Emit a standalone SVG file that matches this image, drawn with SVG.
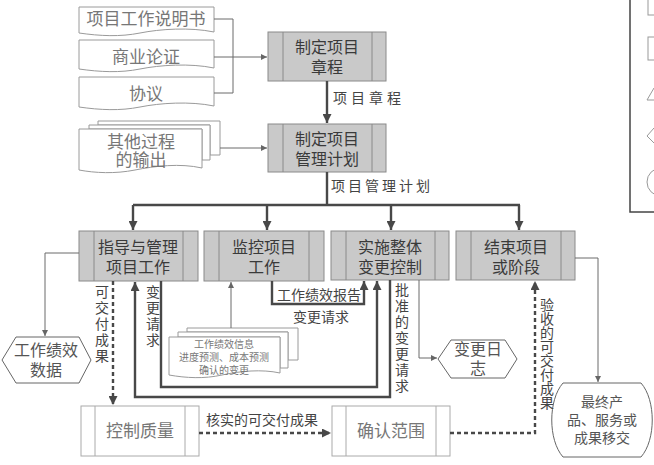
<svg xmlns="http://www.w3.org/2000/svg" width="654" height="465" viewBox="0 0 654 465">
<style>
text{font-family:"Liberation Sans","Noto Sans CJK SC",sans-serif;}
.proc rect.o{fill:#c9c9c9;stroke:#8a8a8a;stroke-width:1;}
.proc line{stroke:#8a8a8a;stroke-width:1;}
.proc text{font-size:16px;fill:#3a3a3a;text-anchor:middle;}
.wp rect.o{fill:#fff;stroke:#aaa;stroke-width:1;}
.wp line{stroke:#aaa;stroke-width:1;}
.wp text{font-size:17px;fill:#777;text-anchor:middle;}
.doc path{fill:#fff;stroke:#9a9a9a;stroke-width:1;}
.doc text{font-size:17px;fill:#777;text-anchor:middle;}
.hex polygon,.hex path{fill:#fff;stroke:#666;stroke-width:1;}
.hex text{font-size:16px;fill:#555;text-anchor:middle;}
.thin{fill:none;stroke:#6a6a6a;stroke-width:1;}
.thick{fill:none;stroke:#484848;stroke-width:2.4;}
.dash{fill:none;stroke:#484848;stroke-width:2.4;stroke-dasharray:4 3;}
.lbl{font-size:14px;fill:#444;}
.vl{font-size:14px;fill:#444;writing-mode:vertical-rl;}
</style>
<defs>
<marker id="ah" viewBox="0 0 10 10" refX="10" refY="5" markerWidth="9" markerHeight="9" markerUnits="userSpaceOnUse" orient="auto"><path d="M0,0 L10,5 L0,10 z" fill="#484848"/></marker>
<marker id="as" viewBox="0 0 10 10" refX="10" refY="5" markerWidth="6" markerHeight="6" markerUnits="userSpaceOnUse" orient="auto"><path d="M0,0 L10,5 L0,10 z" fill="#666"/></marker>
</defs>

<g id="legend">
<rect x="630" y="-2" width="40" height="214" fill="none" stroke="#444" stroke-width="1.5"/>
<rect x="648" y="-2" width="12" height="17" fill="none" stroke="#999"/>
<rect x="648" y="37" width="12" height="23" fill="none" stroke="#999"/>
<path d="M647,100 L654,88 M647,100 H654" fill="none" stroke="#999"/>
<path d="M654,128 L647,136 L654,143" fill="none" stroke="#999"/>
<ellipse cx="661" cy="182" rx="14" ry="14" fill="none" stroke="#999"/>
</g>

<g id="doc-sow" class="doc">
<path d="M79,7 H214 V32 C190,27 160,29 140,33 C120,37 100,36 79,33 Z"/>
<text x="146" y="25">项目工作说明书</text>
</g>
<g id="doc-business" class="doc">
<path d="M79,40 H214 V68 C190,63 160,65 140,69 C120,73 100,72 79,69 Z"/>
<text x="146" y="63">商业论证</text>
</g>
<g id="doc-agreement" class="doc">
<path d="M79,77 H214 V106 C190,101 160,103 140,107 C120,111 100,110 79,107 Z"/>
<text x="146" y="100">协议</text>
</g>
<g id="doc-other" class="doc">
<path d="M98,121 H220 V155 H210 V125 H98 Z"/>
<path d="M89,125 H210 V160 H202 V129 H89 Z"/>
<path d="M79,129 H202 V168 C180,163 155,166 135,170 C115,174 95,173 79,170 Z"/>
<text x="141" y="148">其他过程<tspan x="141" dy="18">的输出</tspan></text>
</g>

<g id="p-charter" class="proc">
<rect class="o" x="268" y="32" width="118" height="49"/>
<line x1="283" y1="32" x2="283" y2="81"/><line x1="372" y1="32" x2="372" y2="81"/>
<text x="327" y="53">制定项目<tspan x="327" dy="20">章程</tspan></text>
</g>
<g id="p-plan" class="proc">
<rect class="o" x="268" y="124" width="118" height="48"/>
<line x1="283" y1="124" x2="283" y2="172"/><line x1="372" y1="124" x2="372" y2="172"/>
<text x="327" y="145">制定项目<tspan x="327" dy="20">管理计划</tspan></text>
</g>
<g id="p-direct" class="proc">
<rect class="o" x="79" y="231" width="119" height="50"/>
<line x1="94" y1="231" x2="94" y2="281"/><line x1="183" y1="231" x2="183" y2="281"/>
<text x="138" y="253">指导与管理<tspan x="138" dy="20">项目工作</tspan></text>
</g>
<g id="p-monitor" class="proc">
<rect class="o" x="204" y="231" width="120" height="50"/>
<line x1="219" y1="231" x2="219" y2="281"/><line x1="309" y1="231" x2="309" y2="281"/>
<text x="264" y="253">监控项目<tspan x="264" dy="20">工作</tspan></text>
</g>
<g id="p-change" class="proc">
<rect class="o" x="331" y="231" width="118" height="49"/>
<line x1="346" y1="231" x2="346" y2="280"/><line x1="435" y1="231" x2="435" y2="280"/>
<text x="390" y="253">实施整体<tspan x="390" dy="20">变更控制</tspan></text>
</g>
<g id="p-close" class="proc">
<rect class="o" x="456" y="231" width="119" height="49"/>
<line x1="471" y1="231" x2="471" y2="280"/><line x1="561" y1="231" x2="561" y2="280"/>
<text x="516" y="253">结束项目<tspan x="516" dy="20">或阶段</tspan></text>
</g>

<g id="p-quality" class="wp">
<rect class="o" x="81" y="406" width="118" height="50"/>
<line x1="95" y1="406" x2="95" y2="456"/><line x1="185" y1="406" x2="185" y2="456"/>
<text x="140" y="437">控制质量</text>
</g>
<g id="p-scope" class="wp">
<rect class="o" x="332" y="406" width="118" height="50"/>
<line x1="346" y1="406" x2="346" y2="456"/><line x1="436" y1="406" x2="436" y2="456"/>
<text x="391" y="437">确认范围</text>
</g>

<g id="d-wpinfo" class="doc">
<path d="M187,328 H298 V360 H288 V332 H187 Z"/>
<path d="M178,332 H288 V368 H280 V337 H178 Z"/>
<path d="M169,337 H280 V373 C262,369 240,371 222,375 C204,379 186,378 169,375 Z"/>
<text x="224" y="348" style="font-size:10px">工作绩效信息<tspan x="224" dy="13">进度预测、成本预测</tspan><tspan x="224" dy="13">确认的变更</tspan></text>
</g>

<g id="h-wpdata" class="hex">
<polygon points="2,360 16,337 79,337 91,360 79,383 16,383"/>
<text x="46" y="356">工作绩效<tspan x="46" dy="20">数据</tspan></text>
</g>
<g id="h-changelog" class="hex">
<polygon points="438,359 451,340 505,340 517,359 505,378 451,378"/>
<text x="478" y="355">变更日<tspan x="478" dy="19">志</tspan></text>
</g>
<g id="h-final" class="hex">
<path d="M563,383 H641 C656,400 656,440 641,457 H563 C548,440 548,400 563,383 Z"/>
<text x="602" y="407" style="font-size:14px">最终产<tspan x="602" dy="18">品、服务或</tspan><tspan x="602" dy="18">成果移交</tspan></text>
</g>

<g id="connectors">
<path class="thin" d="M214,19 H233 V93 H214"/>
<path class="thin" d="M214,57 H267" marker-end="url(#as)"/>
<path class="thin" d="M220,148 H267" marker-end="url(#as)"/>
<path class="thick" d="M327,81 V123" marker-end="url(#ah)"/>
<path class="thick" d="M327,172 V205 M133,205 H520"/>
<path class="thick" d="M133,205 V230" marker-end="url(#ah)"/>
<path class="thick" d="M267,205 V230" marker-end="url(#ah)"/>
<path class="thick" d="M391,205 V230" marker-end="url(#ah)"/>
<path class="thick" d="M519,205 V230" marker-end="url(#ah)"/>
<path class="thin" d="M79,253 H45 V336" marker-end="url(#as)"/>
<path class="dash" d="M113,281 V405" marker-end="url(#ah)"/>
<path class="thick" d="M161,281 V387 H377 V281" marker-end="url(#ah)"/>
<path class="thick" d="M390,280 V397 H135 V282" marker-end="url(#ah)"/>
<path class="thick" d="M272,281 V304 H364 V281" marker-end="url(#ah)"/>
<path class="thin" d="M231,328 V282" marker-end="url(#as)"/>
<path class="thin" d="M419,280 V358 H437" marker-end="url(#as)"/>
<path class="thin" d="M575,258 H598 V382" marker-end="url(#as)"/>
<path class="dash" d="M199,433 H331" marker-end="url(#ah)"/>
<path class="dash" d="M450,433 H535 V281" marker-end="url(#ah)"/>
<text class="lbl" x="333" y="103" style="letter-spacing:4px">项目章程</text>
<text class="lbl" x="331" y="191" style="letter-spacing:3px">项目管理计划</text>
<text class="lbl" x="277" y="300">工作绩效报告</text>
<text class="lbl" x="293" y="322">变更请求</text>
<text class="lbl" x="206" y="425">核实的可交付成果</text>
<text class="vl" x="101" y="285" style="letter-spacing:2px">可交付成果</text>
<text class="vl" x="152" y="285" style="letter-spacing:2px">变更请求</text>
<text class="vl" x="401" y="283" style="letter-spacing:2px">批准的变更请求</text>
<text class="vl" x="546" y="298">验收的可交付成果</text>
</g>
</svg>
